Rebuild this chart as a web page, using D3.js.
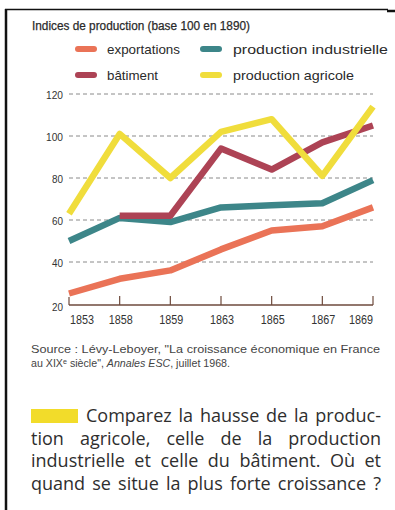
<!DOCTYPE html>
<html><head><meta charset="utf-8">
<script src="https://cdn.jsdelivr.net/npm/d3@7"></script>
<style>
html,body{margin:0;padding:0;background:#fff;}
svg{display:block;}
</style></head>
<body>
<svg id="c" width="395" height="510"></svg>
<script>
const years = ["1853","1858","1859","1863","1865","1867","1869"];
const exportations = [25, 32, 36, 46, 55, 57, 66];
const industrielle = [50, 61, 59, 66, 67, 68, 79];
const batiment = [null, 62, 62, 94, 84, 97, 105];
const agricole = [63, 101, 80, 102, 108, 81, 114];
const yTicks = [20, 40, 60, 80, 100, 120];
const seriesNames = ["exportations", "production industrielle", "bâtiment", "production agricole"];
const seriesColors = ["#ea7357", "#3d8689", "#ad4355", "#f0dd3c"];
const title = "Indices de production (base 100 en 1890)";
const questionLines = [
  "Comparez la hausse de la produc-",
  "tion agricole, celle de la production",
  "industrielle et celle du bâtiment. Où et",
  "quand se situe la plus forte croissance ?"
];

const svg = d3.select("#c");
const narrow = "'Liberation Sans', Arial, sans-serif";

// frame
svg.append("line").attr("x1",5).attr("x2",388).attr("y1",9.5).attr("y2",9.5).attr("stroke","#111").attr("stroke-width",1.5);
svg.append("line").attr("x1",387).attr("x2",395).attr("y1",11).attr("y2",11).attr("stroke","#111").attr("stroke-width",2.5);
svg.append("line").attr("x1",6).attr("x2",6).attr("y1",9).attr("y2",510).attr("stroke","#111").attr("stroke-width",2.5);

// title
svg.append("text").attr("x",32).attr("y",30).text(title)
  .attr("font-family",narrow).attr("font-size",12.5).attr("fill","#2a2a2a")
  .attr("stroke","#2a2a2a").attr("stroke-width",0.25)
  .attr("textLength",218).attr("lengthAdjust","spacingAndGlyphs");

// legend
const legPos = [[75,49,107,73],[200,49,233,155],[75,75,107,51],[200,75,233,121]];
seriesNames.forEach((nm,i)=>{
  const p = legPos[i];
  svg.append("line").attr("x1",p[0]+3).attr("x2",p[0]+22-3).attr("y1",p[1]).attr("y2",p[1])
    .attr("stroke",seriesColors[i]).attr("stroke-width",6).attr("stroke-linecap","round");
  svg.append("text").attr("x",p[2]).attr("y",p[1]+4.5).text(nm)
    .attr("font-family",narrow).attr("font-size",13.5).attr("fill","#2a2a2a")
    .attr("textLength",p[3]).attr("lengthAdjust","spacingAndGlyphs");
});

// scales
const x = d3.scalePoint().domain(years).range([69, 373]);
const y = d3.scaleLinear().domain([20, 120]).range([304, 94]);

// grid
const grid = svg.append("g");
yTicks.filter(t=>t>20).forEach(t=>{
  grid.append("line").attr("x1",69).attr("x2",373).attr("y1",y(t)).attr("y2",y(t))
    .attr("stroke","#8a8a8a").attr("stroke-width",1).attr("stroke-dasharray","4,3");
});
// y labels
yTicks.forEach(t=>{
  svg.append("text").attr("x",63).attr("y",y(t)+ (t===20?7:4.5)).attr("text-anchor","end").text(t)
    .attr("font-family",narrow).attr("font-size",11.5).attr("fill","#333")
    .attr("textLength", t>=100?17:11).attr("lengthAdjust","spacingAndGlyphs");
});

// lines
const lineGen = d3.line().defined(d=>d[1]!=null).x(d=>x(d[0])).y(d=>y(d[1]));
const data = [exportations, industrielle, batiment, agricole];
const drawOrder = [1, 0, 2, 3];
drawOrder.forEach(i=>{
  svg.append("path").attr("d", lineGen(years.map((yr,j)=>[yr, data[i][j]])))
    .attr("fill","none").attr("stroke",seriesColors[i]).attr("stroke-width",6.5)
    .attr("stroke-linejoin","round").attr("stroke-linecap","butt");
});

// x axis
const xa = svg.append("g").attr("transform","translate(0,305)");
xa.append("line").attr("x1",69).attr("x2",373).attr("y1",0).attr("y2",0).attr("stroke","#6e4a3c").attr("stroke-width",1.5);
years.forEach((yr,j)=>{
  xa.append("line").attr("x1",x(yr)).attr("x2",x(yr)).attr("y1",0).attr("y2",j===0?-8:-9).attr("stroke","#6e4a3c").attr("stroke-width",1.2);
  const anchor = j===0 ? "start" : (j===years.length-1 ? "end" : "middle");
  const xx = j===0 ? x(yr)+1 : (j===years.length-1 ? x(yr) : x(yr)+1);
  xa.append("text").attr("x",xx).attr("y",19).attr("text-anchor",anchor).text(yr)
    .attr("font-family",narrow).attr("font-size",12).attr("fill","#333")
    .attr("textLength",24).attr("lengthAdjust","spacingAndGlyphs");
});

// source
const src = svg.append("g").attr("font-family","'Liberation Sans', Arial, sans-serif").attr("font-size",10.5).attr("fill","#444");
src.append("text").attr("x",31).attr("y",353).text('Source : Lévy-Leboyer, "La croissance économique en France')
  .attr("textLength",349).attr("lengthAdjust","spacingAndGlyphs");
const s2 = src.append("text").attr("x",31).attr("y",367).attr("textLength",199).attr("lengthAdjust","spacingAndGlyphs");
s2.append("tspan").text("au XIX");
s2.append("tspan").text("e").attr("font-size",7).attr("dy",-3);
s2.append("tspan").text(' siècle", ').attr("dy",3);
s2.append("tspan").text("Annales ESC").attr("font-style","italic");
s2.append("tspan").text(", juillet 1968.");

// question
svg.append("rect").attr("x",31).attr("y",409).attr("width",47).attr("height",14).attr("fill","#f2dc2a");
const qg = svg.append("g").attr("font-family","'Open Sans', 'Noto Sans', sans-serif").attr("font-size",18).attr("fill","#2e2e2e");
const qY = [422, 445, 467, 490];
questionLines.forEach((ln,i)=>{
  const words = ln.split(" ");
  const x0 = i===0 ? 86 : 31, x1 = 381;
  const nodes = words.map(w=>qg.append("text").attr("y",qY[i]).text(w));
  const widths = nodes.map(n=>n.node().getComputedTextLength());
  const total = d3.sum(widths);
  let gap = (x1 - x0 - total)/(words.length-1);
  let sx = 1;
  if (gap < 3.5) { gap = 3.5; sx = (x1 - x0 - gap*(words.length-1))/total; }
  let cx = x0;
  nodes.forEach((n,k)=>{
    if (sx !== 1) n.attr("textLength", widths[k]*sx).attr("lengthAdjust","spacingAndGlyphs");
    n.attr("x",cx); cx += widths[k]*sx + gap;
  });
});
</script>
</body></html>
